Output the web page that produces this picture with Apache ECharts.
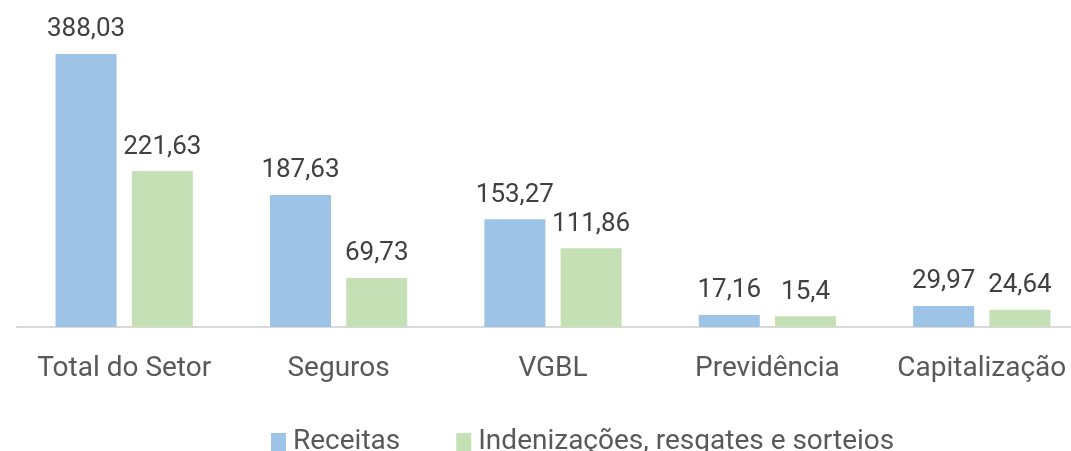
<!DOCTYPE html>
<html>
<head>
<meta charset="utf-8">
<script src="https://cdn.jsdelivr.net/npm/echarts@6/dist/echarts.min.js"></script>
<style>html,body{margin:0;padding:0;background:#fff;overflow:hidden;width:1071px;height:451px}#c{width:1090px;height:451px}</style>
</head>
<body>
<div id="c"></div>
<script>
const categories = ["Total do Setor", "Seguros", "VGBL", "Previdência", "Capitalização"];
const receitas = [388.03, 187.63, 153.27, 17.16, 29.97];
const indenizacoes = [221.63, 69.73, 111.86, 15.4, 24.64];
const seriesNames = ["Receitas", "Indenizações, resgates e sorteios"];

const font = 'Roboto';
const chart = echarts.init(document.getElementById('c'), null, {renderer: 'canvas'});
const labelCfg = {
  show: true, position: 'top', distance: 11,
  formatter: p => String(p.value).replace('.', ','),
  color: '#404040', fontSize: 26, fontFamily: font
};
chart.setOption({
  animation: false,
  backgroundColor: '#fff',
  grid: {left: 17, width: 1072, top: 10.4, height: 316.6, containLabel: false},
  legend: {
    left: 266, top: 423,
    itemWidth: 15, itemHeight: 18, itemGap: 56,
    textStyle: {color: '#595959', fontSize: 28, fontFamily: font, padding: [0,0,0,2]},
    data: seriesNames,
    icon: 'rect'
  },
  xAxis: {
    type: 'category', data: categories,
    axisLine: {lineStyle: {color: '#D9D9D9', width: 2}},
    axisTick: {show: false},
    axisLabel: {color: '#595959', fontSize: 28, fontFamily: font, margin: 28, interval: 0}
  },
  yAxis: {
    type: 'value', min: 0, max: 450, show: false,
    splitLine: {show: false}
  },
  series: [
    {name: seriesNames[0], type: 'bar', data: receitas, barWidth: 61, barGap: '25%',
     itemStyle: {color: '#9DC3E6'}, label: labelCfg},
    {name: seriesNames[1], type: 'bar', data: indenizacoes, barWidth: 61, barGap: '25%',
     itemStyle: {color: '#C5E0B4'}, label: labelCfg}
  ]
});
</script>
</body>
</html>
